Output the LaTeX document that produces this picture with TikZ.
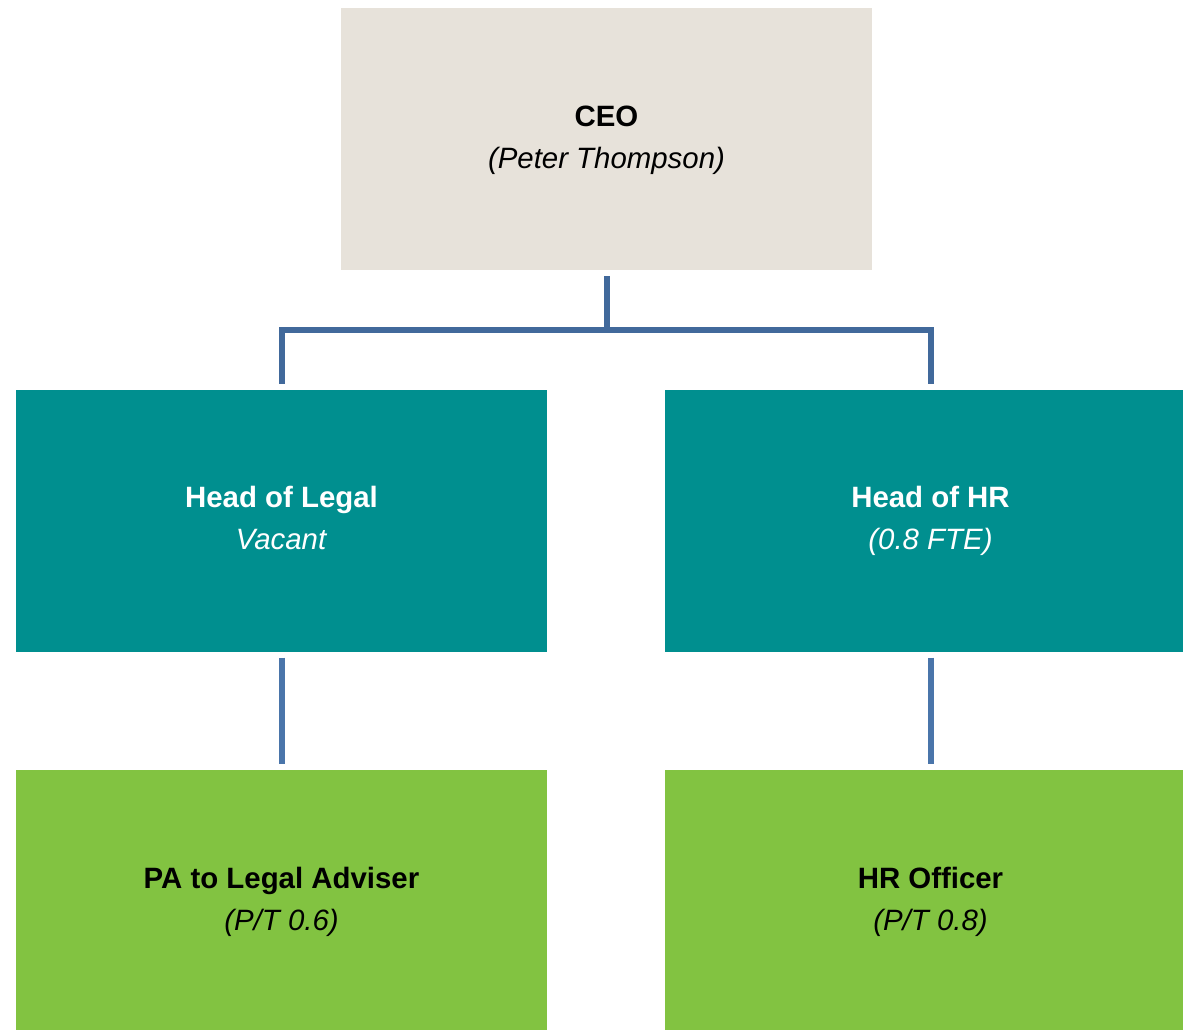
\documentclass[tikz,border=0pt]{standalone}
\usepackage{fontspec}
\setmainfont{Liberation Sans}
\definecolor{ceofill}{RGB}{231,226,218}
\definecolor{tealfill}{RGB}{0,143,143}
\definecolor{greenfill}{RGB}{130,195,65}
\definecolor{linkA}{RGB}{65,105,155}
\definecolor{linkB}{RGB}{74,117,170}
\newcommand{\boxtext}[2]{\textbf{#1}\strut\\\textit{#2}\strut}
\begin{document}
\begin{tikzpicture}[x=1pt,y=-1pt,
  box/.style={draw=none, minimum width=531pt, minimum height=262pt, inner sep=0pt, outer sep=0pt,
    align=center, font=\fontsize{29.4}{42}\selectfont},
  ceobox/.style={box, fill=ceofill, text=black},
  headbox/.style={box, fill=tealfill, text=white},
  staffbox/.style={box, fill=greenfill, text=black},
  linkup/.style={draw=linkA, line width=6pt, line join=miter, shorten <=6pt, shorten >=6pt},
  linkdown/.style={draw=linkB, line width=6pt, shorten <=6pt, shorten >=6pt}]
\useasboundingbox (0,0) rectangle (1183,1029);
\clip (0,0) rectangle (1183,1029);
\node[ceobox] (ceo) at (606.5,139) {\boxtext{CEO}{(Peter Thompson)}};
\node[headbox] (legal) at (281.5,520.5) {\boxtext{Head of Legal}{Vacant}};
\node[headbox] (hr) at (930.5,520.5) {\boxtext{Head of HR}{(0.8 FTE)}};
\node[staffbox] (pa) at (281.5,901) {\boxtext{PA to Legal Adviser}{(P/T 0.6)}};
\node[staffbox] (hro) at (930.5,901) {\boxtext{HR Officer}{(P/T 0.8)}};
\draw[linkup] (ceo.south) -- ++(0,59.5) -| (legal.north);
\draw[linkup] (ceo.south) -- ++(0,59.5) -| (hr.north);
\draw[linkdown] (legal.south) -- (pa.north);
\draw[linkdown] (hr.south) -- (hro.north);
\end{tikzpicture}
\end{document}
